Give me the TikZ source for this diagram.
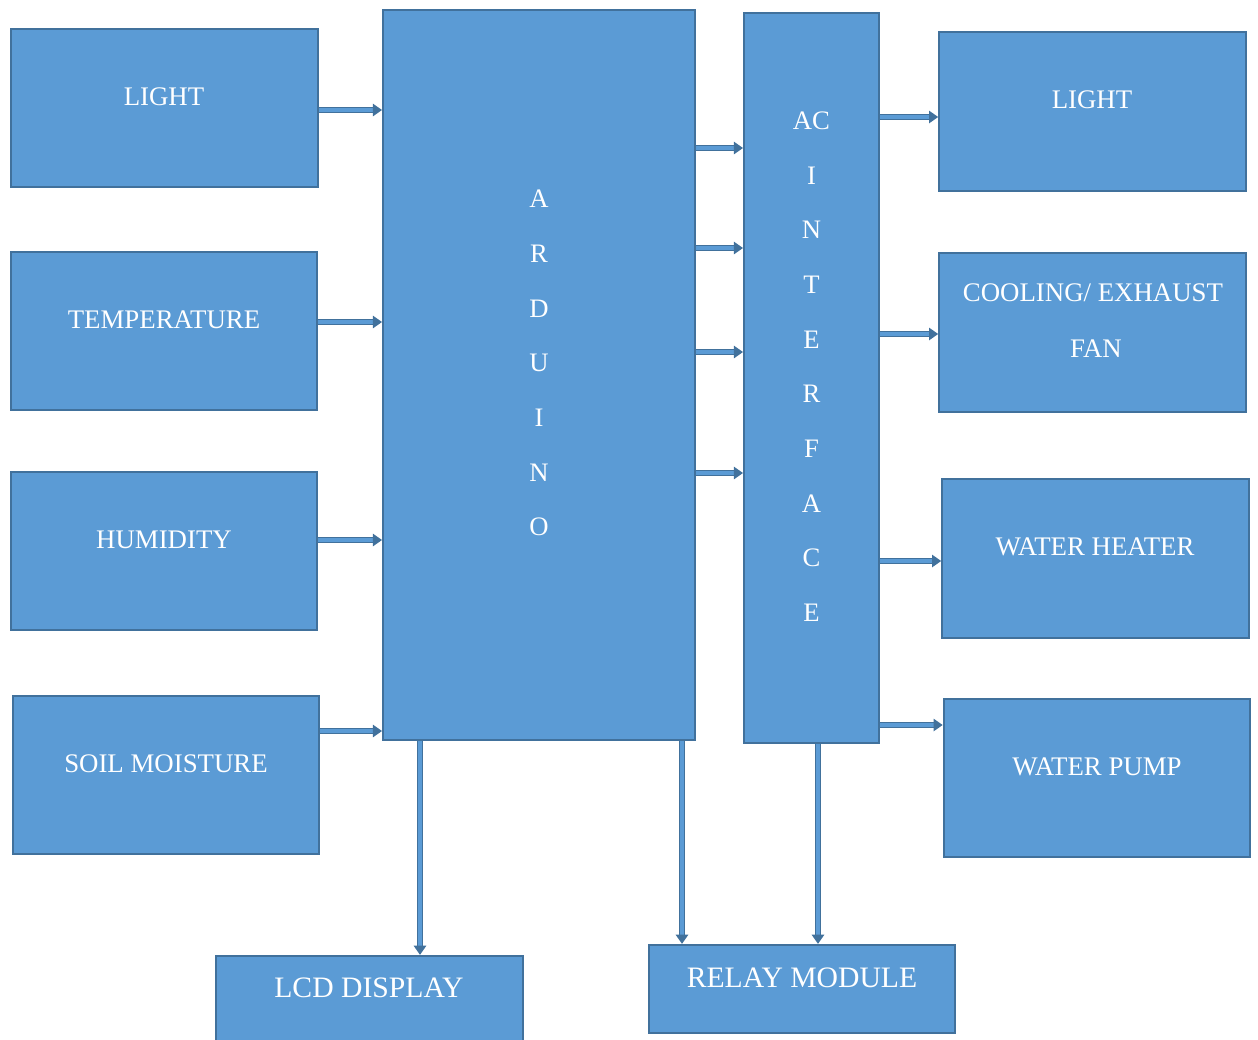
\documentclass[tikz,border=0pt]{standalone}
\usepackage{fontspec}
\setmainfont{Liberation Serif}
\usetikzlibrary{arrows.meta}
\definecolor{boxblue}{HTML}{5B9BD5}
\definecolor{edgeblue}{HTML}{41719C}

\begin{document}
\begin{tikzpicture}[
  x=0.6pt, y=-0.6pt,
  box/.style={draw=edgeblue, fill=boxblue, line width=1.2pt,
              minimum width=184pt, minimum height=95pt, inner sep=0pt},
  lbl/.style={text=white, font=\fontsize{16.1}{18}\selectfont, inner sep=0pt},
  biglbl/.style={lbl, font=\fontsize{17.8}{20}\selectfont},
  vlbl/.style={text=white, font=\fontsize{16}{32.8}\selectfont,
               align=center, inner sep=0pt},
  conn/.style={draw=edgeblue, double=boxblue, line width=0.8pt,
               double distance=2pt, -{Triangle[length=5.5pt,width=7.5pt]}},
]
\useasboundingbox (0,0) rectangle (1258,1039);

%% ---- sensor inputs ----
\node[box] (lightin) at (164.5,108) {};
\node[lbl] (lightinlbl) at (164,97) {LIGHT};
\node[box] (temp) at (164,331) {};
\node[lbl] (templbl) at (164,320) {TEMPERATURE};
\node[box] (humid) at (164,551) {};
\node[lbl] (humidlbl) at (164,540) {HUMIDITY};
\node[box] (soil) at (166,775) {};
\node[lbl] (soillbl) at (166,764) {SOIL MOISTURE};

%% ---- controller and interface ----
\node[box, minimum width=187.2pt, minimum height=438pt] (ard) at (539,375) {};
\node[vlbl] (ardlbl) at (539,363) {A\\R\\D\\U\\I\\N\\O};
\node[box, minimum width=81pt, minimum height=438pt] (acif) at (811.5,378) {};
\node[vlbl] (aciflbl) at (811.5,366.5) {AC\\I\\N\\T\\E\\R\\F\\A\\C\\E};

%% ---- loads ----
\node[box] (lightout) at (1092.5,111.5) {};
\node[lbl] (lightoutlbl) at (1092,100) {LIGHT};
\node[box] (fan) at (1092.5,332.5) {};
\node[lbl] (fanlbl) at (1093,293) {COOLING/ EXHAUST};
\node[lbl] (fanlbl2) at (1096,349) {FAN};
\node[box] (heater) at (1095.5,558.5) {};
\node[lbl] (heaterlbl) at (1095,547) {WATER HEATER};
\node[box] (pump) at (1097,778) {};
\node[lbl] (pumplbl) at (1097,767) {WATER PUMP};

%% ---- bottom modules ----
\node[box, minimum height=53pt] (lcd) at (369.5,1000) {};
\node[biglbl] (lcdlbl) at (369,988) {LCD DISPLAY};
\node[box, minimum height=53pt] (relay) at (802,989) {};
\node[biglbl] (relaylbl) at (802,978) {RELAY MODULE};

%% ---- sensors -> arduino ----
\draw[conn] (lightin.east |- 0,110) -- (ard.west |- 0,110);
\draw[conn] (temp.east |- 0,322) -- (ard.west |- 0,322);
\draw[conn] (humid.east |- 0,540) -- (ard.west |- 0,540);
\draw[conn] (soil.east |- 0,731) -- (ard.west |- 0,731);

%% ---- arduino -> interface ----
\foreach \yy in {148,248,352,473}
  \draw[conn] (ard.east |- 0,\yy) -- (acif.west |- 0,\yy);

%% ---- interface -> loads ----
\draw[conn] (acif.east |- 0,117) -- (lightout.west |- 0,117);
\draw[conn] (acif.east |- 0,334) -- (fan.west |- 0,334);
\draw[conn] (acif.east |- 0,561) -- (heater.west |- 0,561);
\draw[conn] (acif.east |- 0,725) -- (pump.west |- 0,725);

%% ---- down to display and relay ----
\draw[conn] (ard.south -| 420,0) -- (lcd.north -| 420,0);
\draw[conn] (ard.south -| 682,0) -- (relay.north -| 682,0);
\draw[conn] (acif.south -| 818,0) -- (relay.north -| 818,0);

\end{tikzpicture}
\end{document}
